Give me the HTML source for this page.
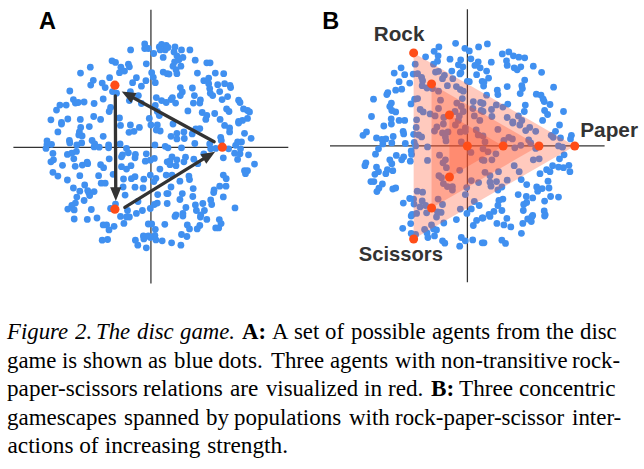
<!DOCTYPE html>
<html><head><meta charset="utf-8"><title>Figure 2</title>
<style>
html,body{margin:0;padding:0;background:#fff;}
body{width:644px;height:469px;position:relative;overflow:hidden;font-family:"Liberation Serif",serif;}
.l{position:absolute;left:0;width:644px;height:26px;font-size:23.3px;line-height:26px;color:#000;white-space:nowrap;}
.l span{position:absolute;top:0;transform-origin:0 0;}
</style></head><body>
<svg width="644" height="300" viewBox="0 0 644 300" style="position:absolute;left:0;top:0">
<g stroke="#333" stroke-width="1.26">
<line x1="150.93" y1="9.85" x2="150.93" y2="283.6"/>
<line x1="13.4" y1="147.4" x2="288.3" y2="147.4"/>
<line x1="467.4" y1="9.15" x2="467.4" y2="282.2"/>
<line x1="330" y1="145.95" x2="604.6" y2="145.95"/>
</g>
<g fill="#4090f0"><circle cx="130.6" cy="49.9" r="3.4"/><circle cx="144.7" cy="43.9" r="3.4"/><circle cx="144.7" cy="48.5" r="3.4"/><circle cx="148.3" cy="48.5" r="3.4"/><circle cx="153.7" cy="53.5" r="3.4"/><circle cx="159.3" cy="46.9" r="3.4"/><circle cx="161.6" cy="44.3" r="3.4"/><circle cx="166.2" cy="45.5" r="3.4"/><circle cx="163.2" cy="57.4" r="3.4"/><circle cx="146.3" cy="63.8" r="3.4"/><circle cx="112.0" cy="60.8" r="3.4"/><circle cx="115.5" cy="62.4" r="3.4"/><circle cx="120.9" cy="67.2" r="3.4"/><circle cx="128.4" cy="64.2" r="3.4"/><circle cx="129.4" cy="66.8" r="3.4"/><circle cx="119.5" cy="72.7" r="3.4"/><circle cx="124.5" cy="71.1" r="3.4"/><circle cx="90.3" cy="67.2" r="3.4"/><circle cx="80.5" cy="73.1" r="3.4"/><circle cx="109.6" cy="77.7" r="3.4"/><circle cx="93.3" cy="80.3" r="3.4"/><circle cx="90.7" cy="85.1" r="3.4"/><circle cx="102.2" cy="83.1" r="3.4"/><circle cx="105.2" cy="87.6" r="3.4"/><circle cx="136.4" cy="77.7" r="3.4"/><circle cx="132.6" cy="82.7" r="3.4"/><circle cx="145.9" cy="80.7" r="3.4"/><circle cx="141.4" cy="86.2" r="3.4"/><circle cx="151.7" cy="72.7" r="3.4"/><circle cx="153.3" cy="77.3" r="3.4"/><circle cx="155.3" cy="82.7" r="3.4"/><circle cx="163.2" cy="72.1" r="3.4"/><circle cx="167.2" cy="73.7" r="3.4"/><circle cx="69.8" cy="91.0" r="3.4"/><circle cx="112.5" cy="91.6" r="3.4"/><circle cx="116.5" cy="93.2" r="3.4"/><circle cx="130.4" cy="91.6" r="3.4"/><circle cx="138.4" cy="95.6" r="3.4"/><circle cx="129.4" cy="100.6" r="3.4"/><circle cx="103.2" cy="99.0" r="3.4"/><circle cx="73.4" cy="99.6" r="3.4"/><circle cx="75.4" cy="103.1" r="3.4"/><circle cx="78.2" cy="102.5" r="3.4"/><circle cx="84.1" cy="102.0" r="3.4"/><circle cx="94.1" cy="103.5" r="3.4"/><circle cx="59.9" cy="105.1" r="3.4"/><circle cx="66.2" cy="105.1" r="3.4"/><circle cx="56.5" cy="110.1" r="3.4"/><circle cx="110.6" cy="107.5" r="3.4"/><circle cx="109.2" cy="111.5" r="3.4"/><circle cx="93.7" cy="116.5" r="3.4"/><circle cx="100.6" cy="119.4" r="3.4"/><circle cx="119.5" cy="118.0" r="3.4"/><circle cx="50.9" cy="119.8" r="3.4"/><circle cx="67.8" cy="119.0" r="3.4"/><circle cx="80.3" cy="119.4" r="3.4"/><circle cx="61.5" cy="122.4" r="3.4"/><circle cx="156.3" cy="97.6" r="3.4"/><circle cx="161.6" cy="100.6" r="3.4"/><circle cx="166.2" cy="102.5" r="3.4"/><circle cx="155.3" cy="105.5" r="3.4"/><circle cx="141.4" cy="103.5" r="3.4"/><circle cx="157.3" cy="111.5" r="3.4"/><circle cx="159.3" cy="115.5" r="3.4"/><circle cx="149.3" cy="118.4" r="3.4"/><circle cx="165.2" cy="49.9" r="3.4"/><circle cx="160.2" cy="49.9" r="3.4"/><circle cx="175.0" cy="46.9" r="3.4"/><circle cx="174.0" cy="51.9" r="3.4"/><circle cx="181.5" cy="49.9" r="3.4"/><circle cx="189.9" cy="49.9" r="3.4"/><circle cx="176.9" cy="55.8" r="3.4"/><circle cx="182.9" cy="57.4" r="3.4"/><circle cx="195.2" cy="60.2" r="3.4"/><circle cx="206.8" cy="62.8" r="3.4"/><circle cx="210.1" cy="62.8" r="3.4"/><circle cx="174.6" cy="61.8" r="3.4"/><circle cx="173.0" cy="66.2" r="3.4"/><circle cx="180.9" cy="66.2" r="3.4"/><circle cx="176.0" cy="69.8" r="3.4"/><circle cx="176.9" cy="73.7" r="3.4"/><circle cx="169.0" cy="74.1" r="3.4"/><circle cx="197.4" cy="73.1" r="3.4"/><circle cx="215.3" cy="73.1" r="3.4"/><circle cx="223.7" cy="73.7" r="3.4"/><circle cx="208.7" cy="78.1" r="3.4"/><circle cx="203.8" cy="80.7" r="3.4"/><circle cx="208.7" cy="83.7" r="3.4"/><circle cx="217.7" cy="84.7" r="3.4"/><circle cx="224.6" cy="83.7" r="3.4"/><circle cx="230.0" cy="85.3" r="3.4"/><circle cx="230.6" cy="87.6" r="3.4"/><circle cx="209.7" cy="88.6" r="3.4"/><circle cx="210.3" cy="93.2" r="3.4"/><circle cx="212.7" cy="95.6" r="3.4"/><circle cx="219.7" cy="91.6" r="3.4"/><circle cx="180.3" cy="87.6" r="3.4"/><circle cx="182.3" cy="92.0" r="3.4"/><circle cx="180.3" cy="95.6" r="3.4"/><circle cx="192.4" cy="88.0" r="3.4"/><circle cx="194.4" cy="95.6" r="3.4"/><circle cx="172.4" cy="97.6" r="3.4"/><circle cx="171.0" cy="99.6" r="3.4"/><circle cx="175.6" cy="103.1" r="3.4"/><circle cx="200.4" cy="100.0" r="3.4"/><circle cx="193.4" cy="103.1" r="3.4"/><circle cx="199.8" cy="103.1" r="3.4"/><circle cx="222.1" cy="99.6" r="3.4"/><circle cx="227.6" cy="96.6" r="3.4"/><circle cx="238.6" cy="100.2" r="3.4"/><circle cx="240.0" cy="102.5" r="3.4"/><circle cx="187.9" cy="110.9" r="3.4"/><circle cx="202.2" cy="112.5" r="3.4"/><circle cx="206.8" cy="115.5" r="3.4"/><circle cx="205.8" cy="119.4" r="3.4"/><circle cx="214.7" cy="113.5" r="3.4"/><circle cx="220.1" cy="119.4" r="3.4"/><circle cx="226.6" cy="108.9" r="3.4"/><circle cx="229.0" cy="111.5" r="3.4"/><circle cx="243.5" cy="108.9" r="3.4"/><circle cx="247.5" cy="110.5" r="3.4"/><circle cx="249.5" cy="111.9" r="3.4"/><circle cx="247.5" cy="118.4" r="3.4"/><circle cx="242.5" cy="120.4" r="3.4"/><circle cx="238.6" cy="121.4" r="3.4"/><circle cx="168.0" cy="47.5" r="3.4"/><circle cx="178.9" cy="59.8" r="3.4"/><circle cx="61.5" cy="124.0" r="3.4"/><circle cx="57.9" cy="131.9" r="3.4"/><circle cx="80.7" cy="127.4" r="3.4"/><circle cx="89.3" cy="126.6" r="3.4"/><circle cx="79.4" cy="131.9" r="3.4"/><circle cx="78.8" cy="134.9" r="3.4"/><circle cx="82.1" cy="135.9" r="3.4"/><circle cx="103.2" cy="136.3" r="3.4"/><circle cx="120.5" cy="125.4" r="3.4"/><circle cx="130.4" cy="125.0" r="3.4"/><circle cx="139.4" cy="127.4" r="3.4"/><circle cx="129.0" cy="132.3" r="3.4"/><circle cx="134.0" cy="131.3" r="3.4"/><circle cx="150.9" cy="125.0" r="3.4"/><circle cx="157.3" cy="125.0" r="3.4"/><circle cx="156.3" cy="130.0" r="3.4"/><circle cx="160.2" cy="131.0" r="3.4"/><circle cx="47.0" cy="140.9" r="3.4"/><circle cx="47.0" cy="144.3" r="3.4"/><circle cx="51.5" cy="144.3" r="3.4"/><circle cx="46.0" cy="148.4" r="3.4"/><circle cx="69.4" cy="140.5" r="3.4"/><circle cx="69.8" cy="142.9" r="3.4"/><circle cx="76.8" cy="144.9" r="3.4"/><circle cx="81.7" cy="142.9" r="3.4"/><circle cx="92.1" cy="140.5" r="3.4"/><circle cx="94.7" cy="143.9" r="3.4"/><circle cx="94.1" cy="146.9" r="3.4"/><circle cx="99.2" cy="147.2" r="3.4"/><circle cx="108.6" cy="144.9" r="3.4"/><circle cx="108.6" cy="147.8" r="3.4"/><circle cx="120.1" cy="143.9" r="3.4"/><circle cx="126.5" cy="148.4" r="3.4"/><circle cx="154.9" cy="144.9" r="3.4"/><circle cx="165.2" cy="146.3" r="3.4"/><circle cx="52.9" cy="153.4" r="3.4"/><circle cx="67.4" cy="154.4" r="3.4"/><circle cx="71.8" cy="153.2" r="3.4"/><circle cx="76.4" cy="151.4" r="3.4"/><circle cx="73.8" cy="158.8" r="3.4"/><circle cx="53.5" cy="159.8" r="3.4"/><circle cx="50.9" cy="161.8" r="3.4"/><circle cx="62.5" cy="165.3" r="3.4"/><circle cx="75.2" cy="166.3" r="3.4"/><circle cx="82.3" cy="165.1" r="3.4"/><circle cx="87.1" cy="162.2" r="3.4"/><circle cx="87.7" cy="163.7" r="3.4"/><circle cx="100.6" cy="164.7" r="3.4"/><circle cx="103.6" cy="167.7" r="3.4"/><circle cx="109.2" cy="158.8" r="3.4"/><circle cx="122.5" cy="154.8" r="3.4"/><circle cx="121.5" cy="156.8" r="3.4"/><circle cx="128.4" cy="152.8" r="3.4"/><circle cx="135.4" cy="154.4" r="3.4"/><circle cx="135.0" cy="157.8" r="3.4"/><circle cx="146.3" cy="153.8" r="3.4"/><circle cx="154.3" cy="158.4" r="3.4"/><circle cx="150.3" cy="160.2" r="3.4"/><circle cx="145.3" cy="161.2" r="3.4"/><circle cx="121.5" cy="166.7" r="3.4"/><circle cx="126.5" cy="169.1" r="3.4"/><circle cx="131.0" cy="165.7" r="3.4"/><circle cx="52.9" cy="172.3" r="3.4"/><circle cx="57.9" cy="176.1" r="3.4"/><circle cx="67.4" cy="180.0" r="3.4"/><circle cx="79.8" cy="175.7" r="3.4"/><circle cx="98.6" cy="175.7" r="3.4"/><circle cx="113.1" cy="174.3" r="3.4"/><circle cx="123.5" cy="179.0" r="3.4"/><circle cx="131.4" cy="178.7" r="3.4"/><circle cx="135.0" cy="176.7" r="3.4"/><circle cx="143.8" cy="179.2" r="3.4"/><circle cx="150.3" cy="175.1" r="3.4"/><circle cx="155.9" cy="178.3" r="3.4"/><circle cx="153.9" cy="181.6" r="3.4"/><circle cx="159.9" cy="169.1" r="3.4"/><circle cx="166.2" cy="175.1" r="3.4"/><circle cx="101.2" cy="183.2" r="3.4"/><circle cx="105.2" cy="183.2" r="3.4"/><circle cx="84.7" cy="185.0" r="3.4"/><circle cx="73.4" cy="188.0" r="3.4"/><circle cx="79.8" cy="191.2" r="3.4"/><circle cx="87.7" cy="190.6" r="3.4"/><circle cx="88.7" cy="192.6" r="3.4"/><circle cx="94.1" cy="191.6" r="3.4"/><circle cx="89.7" cy="195.5" r="3.4"/><circle cx="76.8" cy="197.1" r="3.4"/><circle cx="84.1" cy="200.5" r="3.4"/><circle cx="75.4" cy="203.1" r="3.4"/><circle cx="71.8" cy="205.5" r="3.4"/><circle cx="67.8" cy="209.1" r="3.4"/><circle cx="74.2" cy="209.9" r="3.4"/><circle cx="91.3" cy="209.5" r="3.4"/><circle cx="123.1" cy="187.0" r="3.4"/><circle cx="135.0" cy="187.2" r="3.4"/><circle cx="143.0" cy="188.0" r="3.4"/><circle cx="125.1" cy="195.1" r="3.4"/><circle cx="157.7" cy="194.6" r="3.4"/><circle cx="166.8" cy="193.6" r="3.4"/><circle cx="138.0" cy="201.5" r="3.4"/><circle cx="157.3" cy="203.1" r="3.4"/><circle cx="154.3" cy="204.5" r="3.4"/><circle cx="150.3" cy="208.5" r="3.4"/><circle cx="142.4" cy="210.5" r="3.4"/><circle cx="127.5" cy="210.5" r="3.4"/><circle cx="136.4" cy="213.4" r="3.4"/><circle cx="110.6" cy="208.5" r="3.4"/><circle cx="115.5" cy="204.1" r="3.4"/><circle cx="167.2" cy="161.8" r="3.4"/><circle cx="167.2" cy="203.5" r="3.4"/><circle cx="173.0" cy="124.0" r="3.4"/><circle cx="224.6" cy="125.4" r="3.4"/><circle cx="229.6" cy="128.0" r="3.4"/><circle cx="229.6" cy="131.9" r="3.4"/><circle cx="238.6" cy="123.0" r="3.4"/><circle cx="195.8" cy="129.0" r="3.4"/><circle cx="199.8" cy="128.6" r="3.4"/><circle cx="192.2" cy="133.9" r="3.4"/><circle cx="183.9" cy="131.9" r="3.4"/><circle cx="176.9" cy="133.3" r="3.4"/><circle cx="171.0" cy="136.3" r="3.4"/><circle cx="176.9" cy="138.9" r="3.4"/><circle cx="184.3" cy="138.5" r="3.4"/><circle cx="194.8" cy="143.5" r="3.4"/><circle cx="181.5" cy="147.8" r="3.4"/><circle cx="244.5" cy="133.3" r="3.4"/><circle cx="251.1" cy="138.3" r="3.4"/><circle cx="220.7" cy="137.3" r="3.4"/><circle cx="221.3" cy="140.5" r="3.4"/><circle cx="209.7" cy="143.9" r="3.4"/><circle cx="210.7" cy="148.8" r="3.4"/><circle cx="215.7" cy="148.4" r="3.4"/><circle cx="237.6" cy="141.9" r="3.4"/><circle cx="241.5" cy="141.9" r="3.4"/><circle cx="235.6" cy="145.3" r="3.4"/><circle cx="228.6" cy="148.8" r="3.4"/><circle cx="240.5" cy="148.8" r="3.4"/><circle cx="234.6" cy="153.2" r="3.4"/><circle cx="240.0" cy="153.8" r="3.4"/><circle cx="248.5" cy="154.8" r="3.4"/><circle cx="237.6" cy="159.4" r="3.4"/><circle cx="223.3" cy="157.8" r="3.4"/><circle cx="254.5" cy="164.1" r="3.4"/><circle cx="244.5" cy="170.7" r="3.4"/><circle cx="247.5" cy="170.7" r="3.4"/><circle cx="245.5" cy="173.7" r="3.4"/><circle cx="172.0" cy="156.8" r="3.4"/><circle cx="170.0" cy="160.8" r="3.4"/><circle cx="176.9" cy="159.8" r="3.4"/><circle cx="185.5" cy="157.2" r="3.4"/><circle cx="183.9" cy="161.8" r="3.4"/><circle cx="193.8" cy="159.2" r="3.4"/><circle cx="197.8" cy="163.7" r="3.4"/><circle cx="170.0" cy="164.7" r="3.4"/><circle cx="176.0" cy="165.7" r="3.4"/><circle cx="172.0" cy="175.1" r="3.4"/><circle cx="188.9" cy="176.1" r="3.4"/><circle cx="189.5" cy="179.6" r="3.4"/><circle cx="179.9" cy="181.2" r="3.4"/><circle cx="223.3" cy="175.1" r="3.4"/><circle cx="226.2" cy="178.7" r="3.4"/><circle cx="226.0" cy="186.2" r="3.4"/><circle cx="219.7" cy="186.2" r="3.4"/><circle cx="214.1" cy="190.0" r="3.4"/><circle cx="213.7" cy="192.6" r="3.4"/><circle cx="223.3" cy="196.9" r="3.4"/><circle cx="193.2" cy="188.6" r="3.4"/><circle cx="171.0" cy="187.0" r="3.4"/><circle cx="168.0" cy="193.6" r="3.4"/><circle cx="182.3" cy="193.6" r="3.4"/><circle cx="192.8" cy="196.5" r="3.4"/><circle cx="179.9" cy="199.5" r="3.4"/><circle cx="210.7" cy="199.9" r="3.4"/><circle cx="211.7" cy="204.5" r="3.4"/><circle cx="202.8" cy="203.5" r="3.4"/><circle cx="195.4" cy="204.9" r="3.4"/><circle cx="185.9" cy="207.5" r="3.4"/><circle cx="196.4" cy="210.5" r="3.4"/><circle cx="204.4" cy="210.5" r="3.4"/><circle cx="235.0" cy="207.9" r="3.4"/><circle cx="182.9" cy="213.4" r="3.4"/><circle cx="176.0" cy="214.8" r="3.4"/><circle cx="200.8" cy="214.8" r="3.4"/><circle cx="203.8" cy="153.8" r="3.4"/><circle cx="168.0" cy="147.8" r="3.4"/><circle cx="74.2" cy="219.0" r="3.4"/><circle cx="87.3" cy="219.4" r="3.4"/><circle cx="97.0" cy="218.0" r="3.4"/><circle cx="103.2" cy="224.9" r="3.4"/><circle cx="106.6" cy="224.9" r="3.4"/><circle cx="109.0" cy="229.9" r="3.4"/><circle cx="114.1" cy="226.3" r="3.4"/><circle cx="123.9" cy="223.4" r="3.4"/><circle cx="120.5" cy="216.4" r="3.4"/><circle cx="126.5" cy="217.0" r="3.4"/><circle cx="129.4" cy="217.0" r="3.4"/><circle cx="148.3" cy="224.0" r="3.4"/><circle cx="151.7" cy="224.0" r="3.4"/><circle cx="155.3" cy="229.3" r="3.4"/><circle cx="164.8" cy="224.3" r="3.4"/><circle cx="102.2" cy="240.2" r="3.4"/><circle cx="107.6" cy="239.5" r="3.4"/><circle cx="135.4" cy="240.2" r="3.4"/><circle cx="137.8" cy="245.2" r="3.4"/><circle cx="146.3" cy="247.8" r="3.4"/><circle cx="143.4" cy="235.9" r="3.4"/><circle cx="148.3" cy="235.9" r="3.4"/><circle cx="143.8" cy="238.9" r="3.4"/><circle cx="154.9" cy="235.3" r="3.4"/><circle cx="155.9" cy="239.9" r="3.4"/><circle cx="162.2" cy="240.8" r="3.4"/><circle cx="150.3" cy="237.5" r="3.4"/><circle cx="175.0" cy="216.4" r="3.4"/><circle cx="182.9" cy="216.0" r="3.4"/><circle cx="200.4" cy="217.0" r="3.4"/><circle cx="206.8" cy="219.4" r="3.4"/><circle cx="219.3" cy="219.6" r="3.4"/><circle cx="221.1" cy="223.6" r="3.4"/><circle cx="215.7" cy="227.9" r="3.4"/><circle cx="218.7" cy="227.9" r="3.4"/><circle cx="187.3" cy="224.9" r="3.4"/><circle cx="189.5" cy="228.9" r="3.4"/><circle cx="199.8" cy="225.5" r="3.4"/><circle cx="197.2" cy="228.9" r="3.4"/><circle cx="181.5" cy="234.5" r="3.4"/><circle cx="186.9" cy="236.5" r="3.4"/><circle cx="171.6" cy="242.8" r="3.4"/><circle cx="180.9" cy="245.2" r="3.4"/></g>
<g fill="#4090f0"><circle cx="455.6" cy="43.3" r="3.4"/><circle cx="438.9" cy="46.9" r="3.4"/><circle cx="434.1" cy="51.3" r="3.4"/><circle cx="438.1" cy="55.8" r="3.4"/><circle cx="425.6" cy="56.8" r="3.4"/><circle cx="437.5" cy="61.2" r="3.4"/><circle cx="433.5" cy="64.2" r="3.4"/><circle cx="450.0" cy="59.2" r="3.4"/><circle cx="460.7" cy="59.8" r="3.4"/><circle cx="464.9" cy="48.3" r="3.4"/><circle cx="469.3" cy="50.9" r="3.4"/><circle cx="478.6" cy="46.9" r="3.4"/><circle cx="470.9" cy="58.8" r="3.4"/><circle cx="458.4" cy="64.8" r="3.4"/><circle cx="462.9" cy="66.8" r="3.4"/><circle cx="474.9" cy="65.4" r="3.4"/><circle cx="478.2" cy="61.8" r="3.4"/><circle cx="480.2" cy="67.8" r="3.4"/><circle cx="451.8" cy="71.1" r="3.4"/><circle cx="460.9" cy="72.7" r="3.4"/><circle cx="476.6" cy="74.7" r="3.4"/><circle cx="467.3" cy="81.3" r="3.4"/><circle cx="482.2" cy="81.3" r="3.4"/><circle cx="415.2" cy="64.2" r="3.4"/><circle cx="401.1" cy="67.8" r="3.4"/><circle cx="394.2" cy="73.1" r="3.4"/><circle cx="404.7" cy="74.7" r="3.4"/><circle cx="413.2" cy="74.1" r="3.4"/><circle cx="417.6" cy="73.7" r="3.4"/><circle cx="421.6" cy="77.3" r="3.4"/><circle cx="422.6" cy="80.7" r="3.4"/><circle cx="435.5" cy="72.1" r="3.4"/><circle cx="438.5" cy="71.3" r="3.4"/><circle cx="444.4" cy="75.3" r="3.4"/><circle cx="442.5" cy="78.7" r="3.4"/><circle cx="452.8" cy="78.7" r="3.4"/><circle cx="399.1" cy="81.7" r="3.4"/><circle cx="409.7" cy="83.1" r="3.4"/><circle cx="422.2" cy="85.7" r="3.4"/><circle cx="427.0" cy="88.0" r="3.4"/><circle cx="432.5" cy="88.6" r="3.4"/><circle cx="447.4" cy="85.7" r="3.4"/><circle cx="456.4" cy="86.6" r="3.4"/><circle cx="460.3" cy="89.6" r="3.4"/><circle cx="463.3" cy="91.2" r="3.4"/><circle cx="438.5" cy="91.2" r="3.4"/><circle cx="401.7" cy="89.2" r="3.4"/><circle cx="395.7" cy="90.2" r="3.4"/><circle cx="387.8" cy="92.6" r="3.4"/><circle cx="386.8" cy="94.6" r="3.4"/><circle cx="373.5" cy="99.2" r="3.4"/><circle cx="414.6" cy="99.2" r="3.4"/><circle cx="417.6" cy="98.6" r="3.4"/><circle cx="411.0" cy="103.9" r="3.4"/><circle cx="391.4" cy="103.1" r="3.4"/><circle cx="389.8" cy="106.5" r="3.4"/><circle cx="440.5" cy="100.2" r="3.4"/><circle cx="462.3" cy="98.6" r="3.4"/><circle cx="473.3" cy="101.6" r="3.4"/><circle cx="480.6" cy="102.5" r="3.4"/><circle cx="456.8" cy="103.1" r="3.4"/><circle cx="461.3" cy="106.5" r="3.4"/><circle cx="472.9" cy="108.5" r="3.4"/><circle cx="438.5" cy="108.5" r="3.4"/><circle cx="420.2" cy="109.5" r="3.4"/><circle cx="423.2" cy="111.9" r="3.4"/><circle cx="430.1" cy="113.9" r="3.4"/><circle cx="435.1" cy="115.9" r="3.4"/><circle cx="391.8" cy="110.5" r="3.4"/><circle cx="395.7" cy="111.9" r="3.4"/><circle cx="371.5" cy="116.5" r="3.4"/><circle cx="391.2" cy="118.8" r="3.4"/><circle cx="399.1" cy="120.4" r="3.4"/><circle cx="404.7" cy="120.4" r="3.4"/><circle cx="416.6" cy="119.8" r="3.4"/><circle cx="455.0" cy="111.5" r="3.4"/><circle cx="463.3" cy="111.5" r="3.4"/><circle cx="459.3" cy="115.9" r="3.4"/><circle cx="481.2" cy="110.5" r="3.4"/><circle cx="474.3" cy="115.9" r="3.4"/><circle cx="443.8" cy="117.5" r="3.4"/><circle cx="458.4" cy="120.4" r="3.4"/><circle cx="479.8" cy="120.4" r="3.4"/><circle cx="487.4" cy="43.9" r="3.4"/><circle cx="502.3" cy="53.9" r="3.4"/><circle cx="508.8" cy="51.9" r="3.4"/><circle cx="513.4" cy="55.8" r="3.4"/><circle cx="518.8" cy="57.2" r="3.4"/><circle cx="524.7" cy="57.8" r="3.4"/><circle cx="491.3" cy="62.2" r="3.4"/><circle cx="506.5" cy="60.8" r="3.4"/><circle cx="507.2" cy="65.4" r="3.4"/><circle cx="514.2" cy="67.8" r="3.4"/><circle cx="517.2" cy="69.8" r="3.4"/><circle cx="520.8" cy="66.8" r="3.4"/><circle cx="533.3" cy="66.2" r="3.4"/><circle cx="541.6" cy="72.3" r="3.4"/><circle cx="486.6" cy="71.1" r="3.4"/><circle cx="488.6" cy="78.1" r="3.4"/><circle cx="484.0" cy="82.1" r="3.4"/><circle cx="483.6" cy="86.0" r="3.4"/><circle cx="524.7" cy="80.1" r="3.4"/><circle cx="521.8" cy="85.7" r="3.4"/><circle cx="522.4" cy="88.6" r="3.4"/><circle cx="520.2" cy="93.6" r="3.4"/><circle cx="507.2" cy="86.6" r="3.4"/><circle cx="497.3" cy="90.2" r="3.4"/><circle cx="497.9" cy="94.6" r="3.4"/><circle cx="486.6" cy="95.2" r="3.4"/><circle cx="553.6" cy="87.2" r="3.4"/><circle cx="536.3" cy="94.2" r="3.4"/><circle cx="541.0" cy="95.2" r="3.4"/><circle cx="543.2" cy="99.2" r="3.4"/><circle cx="544.2" cy="101.6" r="3.4"/><circle cx="550.0" cy="104.5" r="3.4"/><circle cx="507.8" cy="104.1" r="3.4"/><circle cx="496.3" cy="104.9" r="3.4"/><circle cx="502.9" cy="107.1" r="3.4"/><circle cx="491.5" cy="109.5" r="3.4"/><circle cx="483.0" cy="103.5" r="3.4"/><circle cx="525.3" cy="105.1" r="3.4"/><circle cx="524.3" cy="111.5" r="3.4"/><circle cx="544.6" cy="110.5" r="3.4"/><circle cx="547.6" cy="114.5" r="3.4"/><circle cx="563.5" cy="111.5" r="3.4"/><circle cx="491.9" cy="116.5" r="3.4"/><circle cx="507.2" cy="117.5" r="3.4"/><circle cx="518.4" cy="115.9" r="3.4"/><circle cx="521.8" cy="120.4" r="3.4"/><circle cx="512.8" cy="121.8" r="3.4"/><circle cx="542.6" cy="120.4" r="3.4"/><circle cx="483.0" cy="111.5" r="3.4"/><circle cx="383.8" cy="126.0" r="3.4"/><circle cx="391.4" cy="124.0" r="3.4"/><circle cx="366.5" cy="131.9" r="3.4"/><circle cx="363.0" cy="135.3" r="3.4"/><circle cx="403.1" cy="131.3" r="3.4"/><circle cx="403.7" cy="133.9" r="3.4"/><circle cx="393.2" cy="136.5" r="3.4"/><circle cx="376.5" cy="137.9" r="3.4"/><circle cx="381.8" cy="139.3" r="3.4"/><circle cx="385.8" cy="138.9" r="3.4"/><circle cx="416.2" cy="127.4" r="3.4"/><circle cx="413.6" cy="134.3" r="3.4"/><circle cx="418.6" cy="134.9" r="3.4"/><circle cx="421.6" cy="136.9" r="3.4"/><circle cx="414.2" cy="142.3" r="3.4"/><circle cx="415.6" cy="145.9" r="3.4"/><circle cx="405.3" cy="143.5" r="3.4"/><circle cx="391.8" cy="142.9" r="3.4"/><circle cx="382.8" cy="143.9" r="3.4"/><circle cx="378.5" cy="148.8" r="3.4"/><circle cx="375.5" cy="154.2" r="3.4"/><circle cx="427.5" cy="146.9" r="3.4"/><circle cx="411.2" cy="150.8" r="3.4"/><circle cx="411.6" cy="154.4" r="3.4"/><circle cx="396.3" cy="155.4" r="3.4"/><circle cx="403.7" cy="156.8" r="3.4"/><circle cx="401.7" cy="159.8" r="3.4"/><circle cx="410.3" cy="161.2" r="3.4"/><circle cx="427.5" cy="160.4" r="3.4"/><circle cx="389.8" cy="159.8" r="3.4"/><circle cx="391.8" cy="163.7" r="3.4"/><circle cx="365.9" cy="162.8" r="3.4"/><circle cx="364.9" cy="165.7" r="3.4"/><circle cx="376.5" cy="167.1" r="3.4"/><circle cx="378.5" cy="171.7" r="3.4"/><circle cx="374.9" cy="174.3" r="3.4"/><circle cx="387.4" cy="169.7" r="3.4"/><circle cx="392.8" cy="170.7" r="3.4"/><circle cx="385.8" cy="173.7" r="3.4"/><circle cx="370.9" cy="181.6" r="3.4"/><circle cx="373.9" cy="181.6" r="3.4"/><circle cx="382.4" cy="184.0" r="3.4"/><circle cx="378.9" cy="188.2" r="3.4"/><circle cx="376.9" cy="191.6" r="3.4"/><circle cx="392.8" cy="189.0" r="3.4"/><circle cx="395.7" cy="188.0" r="3.4"/><circle cx="417.2" cy="191.2" r="3.4"/><circle cx="422.6" cy="192.2" r="3.4"/><circle cx="409.7" cy="198.5" r="3.4"/><circle cx="413.6" cy="199.1" r="3.4"/><circle cx="403.3" cy="203.1" r="3.4"/><circle cx="414.0" cy="204.1" r="3.4"/><circle cx="422.2" cy="200.9" r="3.4"/><circle cx="420.0" cy="206.9" r="3.4"/><circle cx="425.6" cy="205.5" r="3.4"/><circle cx="412.2" cy="214.4" r="3.4"/><circle cx="416.6" cy="213.4" r="3.4"/><circle cx="426.6" cy="212.8" r="3.4"/><circle cx="437.5" cy="211.8" r="3.4"/><circle cx="441.1" cy="212.4" r="3.4"/><circle cx="442.5" cy="204.5" r="3.4"/><circle cx="438.1" cy="199.1" r="3.4"/><circle cx="434.5" cy="131.0" r="3.4"/><circle cx="436.9" cy="127.0" r="3.4"/><circle cx="442.5" cy="132.9" r="3.4"/><circle cx="448.0" cy="131.9" r="3.4"/><circle cx="445.4" cy="136.9" r="3.4"/><circle cx="446.0" cy="140.9" r="3.4"/><circle cx="443.4" cy="124.0" r="3.4"/><circle cx="455.4" cy="125.0" r="3.4"/><circle cx="460.3" cy="131.9" r="3.4"/><circle cx="465.3" cy="131.3" r="3.4"/><circle cx="465.3" cy="128.0" r="3.4"/><circle cx="461.3" cy="141.9" r="3.4"/><circle cx="476.2" cy="130.0" r="3.4"/><circle cx="478.2" cy="134.9" r="3.4"/><circle cx="470.9" cy="152.4" r="3.4"/><circle cx="439.5" cy="155.2" r="3.4"/><circle cx="445.4" cy="159.8" r="3.4"/><circle cx="443.0" cy="162.8" r="3.4"/><circle cx="446.4" cy="167.7" r="3.4"/><circle cx="459.7" cy="170.3" r="3.4"/><circle cx="438.9" cy="175.7" r="3.4"/><circle cx="441.5" cy="177.7" r="3.4"/><circle cx="443.4" cy="183.6" r="3.4"/><circle cx="447.4" cy="186.6" r="3.4"/><circle cx="452.4" cy="186.6" r="3.4"/><circle cx="452.4" cy="190.0" r="3.4"/><circle cx="471.3" cy="180.6" r="3.4"/><circle cx="478.6" cy="182.6" r="3.4"/><circle cx="466.7" cy="187.6" r="3.4"/><circle cx="465.3" cy="194.6" r="3.4"/><circle cx="482.2" cy="159.8" r="3.4"/><circle cx="474.3" cy="201.5" r="3.4"/><circle cx="479.2" cy="205.5" r="3.4"/><circle cx="471.3" cy="208.9" r="3.4"/><circle cx="460.3" cy="209.1" r="3.4"/><circle cx="466.9" cy="213.4" r="3.4"/><circle cx="559.5" cy="125.0" r="3.4"/><circle cx="555.5" cy="131.3" r="3.4"/><circle cx="571.4" cy="135.3" r="3.4"/><circle cx="570.5" cy="138.9" r="3.4"/><circle cx="560.5" cy="137.9" r="3.4"/><circle cx="551.2" cy="135.3" r="3.4"/><circle cx="553.2" cy="137.3" r="3.4"/><circle cx="497.9" cy="129.4" r="3.4"/><circle cx="512.8" cy="123.0" r="3.4"/><circle cx="519.8" cy="125.0" r="3.4"/><circle cx="525.7" cy="130.6" r="3.4"/><circle cx="529.7" cy="127.4" r="3.4"/><circle cx="535.7" cy="131.3" r="3.4"/><circle cx="508.8" cy="137.3" r="3.4"/><circle cx="512.4" cy="138.9" r="3.4"/><circle cx="503.9" cy="140.5" r="3.4"/><circle cx="528.7" cy="139.9" r="3.4"/><circle cx="530.7" cy="142.9" r="3.4"/><circle cx="520.8" cy="145.3" r="3.4"/><circle cx="514.8" cy="147.8" r="3.4"/><circle cx="535.7" cy="148.4" r="3.4"/><circle cx="558.5" cy="145.9" r="3.4"/><circle cx="562.5" cy="147.2" r="3.4"/><circle cx="485.0" cy="141.9" r="3.4"/><circle cx="488.0" cy="151.8" r="3.4"/><circle cx="495.9" cy="153.8" r="3.4"/><circle cx="491.9" cy="159.8" r="3.4"/><circle cx="484.0" cy="160.4" r="3.4"/><circle cx="564.1" cy="154.8" r="3.4"/><circle cx="559.5" cy="158.8" r="3.4"/><circle cx="539.2" cy="158.8" r="3.4"/><circle cx="533.3" cy="159.8" r="3.4"/><circle cx="514.2" cy="165.7" r="3.4"/><circle cx="519.2" cy="171.7" r="3.4"/><circle cx="498.5" cy="171.7" r="3.4"/><circle cx="485.0" cy="172.3" r="3.4"/><circle cx="490.0" cy="175.7" r="3.4"/><circle cx="552.6" cy="165.7" r="3.4"/><circle cx="558.5" cy="167.1" r="3.4"/><circle cx="563.5" cy="167.7" r="3.4"/><circle cx="568.9" cy="165.3" r="3.4"/><circle cx="569.9" cy="171.7" r="3.4"/><circle cx="546.6" cy="169.7" r="3.4"/><circle cx="550.0" cy="171.7" r="3.4"/><circle cx="540.0" cy="173.7" r="3.4"/><circle cx="521.2" cy="179.6" r="3.4"/><circle cx="507.2" cy="180.2" r="3.4"/><circle cx="496.5" cy="181.6" r="3.4"/><circle cx="490.0" cy="182.2" r="3.4"/><circle cx="491.0" cy="186.2" r="3.4"/><circle cx="501.9" cy="187.0" r="3.4"/><circle cx="497.9" cy="190.0" r="3.4"/><circle cx="526.7" cy="184.6" r="3.4"/><circle cx="548.0" cy="181.2" r="3.4"/><circle cx="549.0" cy="188.0" r="3.4"/><circle cx="536.7" cy="187.0" r="3.4"/><circle cx="542.2" cy="188.6" r="3.4"/><circle cx="537.7" cy="191.2" r="3.4"/><circle cx="518.2" cy="194.6" r="3.4"/><circle cx="526.3" cy="196.5" r="3.4"/><circle cx="532.7" cy="197.9" r="3.4"/><circle cx="550.6" cy="196.5" r="3.4"/><circle cx="558.5" cy="197.1" r="3.4"/><circle cx="544.6" cy="201.1" r="3.4"/><circle cx="502.9" cy="199.1" r="3.4"/><circle cx="498.9" cy="200.5" r="3.4"/><circle cx="497.9" cy="205.5" r="3.4"/><circle cx="526.7" cy="202.5" r="3.4"/><circle cx="523.7" cy="204.5" r="3.4"/><circle cx="523.3" cy="210.5" r="3.4"/><circle cx="501.9" cy="210.5" r="3.4"/><circle cx="493.9" cy="211.4" r="3.4"/><circle cx="489.0" cy="214.4" r="3.4"/><circle cx="544.2" cy="210.9" r="3.4"/><circle cx="532.7" cy="215.4" r="3.4"/><circle cx="545.2" cy="214.8" r="3.4"/><circle cx="483.0" cy="148.8" r="3.4"/><circle cx="483.0" cy="135.9" r="3.4"/><circle cx="402.7" cy="228.3" r="3.4"/><circle cx="410.7" cy="223.6" r="3.4"/><circle cx="411.2" cy="216.0" r="3.4"/><circle cx="411.2" cy="233.5" r="3.4"/><circle cx="415.6" cy="234.5" r="3.4"/><circle cx="424.6" cy="229.5" r="3.4"/><circle cx="431.5" cy="224.9" r="3.4"/><circle cx="436.5" cy="217.0" r="3.4"/><circle cx="433.5" cy="228.9" r="3.4"/><circle cx="436.5" cy="229.9" r="3.4"/><circle cx="427.0" cy="232.9" r="3.4"/><circle cx="427.9" cy="237.5" r="3.4"/><circle cx="434.5" cy="235.9" r="3.4"/><circle cx="443.8" cy="223.0" r="3.4"/><circle cx="456.4" cy="219.6" r="3.4"/><circle cx="442.5" cy="240.8" r="3.4"/><circle cx="444.8" cy="243.2" r="3.4"/><circle cx="459.7" cy="246.2" r="3.4"/><circle cx="461.3" cy="237.5" r="3.4"/><circle cx="465.3" cy="240.8" r="3.4"/><circle cx="472.7" cy="239.9" r="3.4"/><circle cx="473.3" cy="225.5" r="3.4"/><circle cx="476.6" cy="220.4" r="3.4"/><circle cx="482.2" cy="218.0" r="3.4"/><circle cx="482.2" cy="242.8" r="3.4"/><circle cx="490.0" cy="216.4" r="3.4"/><circle cx="506.9" cy="218.4" r="3.4"/><circle cx="496.9" cy="223.4" r="3.4"/><circle cx="503.9" cy="224.9" r="3.4"/><circle cx="510.8" cy="226.9" r="3.4"/><circle cx="522.8" cy="223.4" r="3.4"/><circle cx="527.7" cy="219.0" r="3.4"/><circle cx="531.7" cy="217.0" r="3.4"/><circle cx="531.3" cy="221.6" r="3.4"/><circle cx="544.6" cy="216.0" r="3.4"/><circle cx="521.4" cy="233.3" r="3.4"/><circle cx="501.9" cy="240.2" r="3.4"/><circle cx="505.5" cy="243.4" r="3.4"/><circle cx="484.0" cy="242.8" r="3.4"/><circle cx="483.0" cy="218.0" r="3.4"/><circle cx="459.9" cy="73.9" r="3.4"/><circle cx="469.3" cy="81.7" r="3.4"/></g>
<line x1="214.15" y1="141.71" x2="132.94" y2="97.52" stroke="#333333" stroke-width="3.3" stroke-linecap="round"/><polygon points="121.70,91.40 136.50,93.08 131.14,102.92" fill="#333333"/><line x1="115.31" y1="95.85" x2="115.74" y2="188.20" stroke="#333333" stroke-width="3.3" stroke-linecap="round"/><polygon points="115.80,201.00 110.14,187.23 121.34,187.17" fill="#333333"/><line x1="124.80" y1="207.33" x2="204.20" y2="158.41" stroke="#333333" stroke-width="3.3" stroke-linecap="round"/><polygon points="215.10,151.70 206.29,163.71 200.41,154.17" fill="#333333"/>
<g fill="#ff4d18"><circle cx="222.3" cy="147.2" r="4.6"/><circle cx="114.9" cy="85.19" r="4.6"/><circle cx="114.9" cy="209.21" r="4.6"/></g>
<g fill="rgb(255,80,40)" fill-opacity="0.3">
<polygon points="574.75,145.95 413.65,52.94 413.65,238.96"/><polygon points="538.95,145.95 431.55,83.94 431.55,207.96"/><polygon points="503.15,145.95 449.45,114.95 449.45,176.95"/>
</g>
<g fill="#ff4d18"><circle cx="467.35" cy="145.95" r="4.5"/><circle cx="503.15" cy="145.95" r="4.5"/><circle cx="449.45" cy="114.95" r="4.5"/><circle cx="449.45" cy="176.95" r="4.5"/><circle cx="538.95" cy="145.95" r="4.5"/><circle cx="431.55" cy="83.94" r="4.5"/><circle cx="431.55" cy="207.96" r="4.5"/><circle cx="574.75" cy="145.95" r="4.5"/><circle cx="413.65" cy="52.94" r="4.5"/><circle cx="413.65" cy="238.96" r="4.5"/></g>
<g font-family="Liberation Sans, sans-serif" font-weight="bold" font-size="20.4px">
<text x="39.1" y="28.9" fill="#000" font-size="23.5px">A</text>
<text x="322.3" y="28.9" fill="#000" font-size="23.5px">B</text>
<text x="373.8" y="40.6" fill="#333" font-size="20.7px">Rock</text>
<text x="580.2" y="136.6" fill="#333" font-size="20.8px">Paper</text>
<text x="358.7" y="260.7" fill="#333" font-size="20.2px">Scissors</text>
</g>
</svg>
<div class="l" style="top:317.60px"><span id="w0_0" style="left:6.77px;transform:scaleX(0.978)"><i>Figure</i></span><span id="w0_1" style="left:74.96px;transform:scaleX(0.978)"><i>2.</i></span><span id="w0_2" style="left:95.81px;transform:scaleX(0.978)"><i>The</i></span><span id="w0_3" style="left:136.86px;transform:scaleX(0.978)"><i>disc</i></span><span id="w0_4" style="left:180.22px;transform:scaleX(0.978)"><i>game.</i></span><span id="w0_5" style="left:241.67px;transform:scaleX(0.978)"><b>A:</b></span><span id="w0_6" style="left:272.04px;transform:scaleX(0.978)">A</span><span id="w0_7" style="left:294.20px;transform:scaleX(0.978)">set</span><span id="w0_8" style="left:325.12px;transform:scaleX(0.978)">of</span><span id="w0_9" style="left:350.67px;transform:scaleX(0.978)">possible</span><span id="w0_10" style="left:431.55px;transform:scaleX(0.978)">agents</span><span id="w0_11" style="left:495.93px;transform:scaleX(0.978)">from</span><span id="w0_12" style="left:546.43px;transform:scaleX(0.978)">the</span><span id="w0_13" style="left:579.50px;transform:scaleX(0.978)">disc</span></div>
<div class="l" style="top:346.50px"><span id="w1_0" style="left:7.36px;transform:scaleX(0.978)">game</span><span id="w1_1" style="left:61.51px;transform:scaleX(0.978)">is</span><span id="w1_2" style="left:82.86px;transform:scaleX(0.978)">shown</span><span id="w1_3" style="left:148.27px;transform:scaleX(0.978)">as</span><span id="w1_4" style="left:174.48px;transform:scaleX(0.978)">blue</span><span id="w1_5" style="left:218.16px;transform:scaleX(1.0)">dots.</span><span id="w1_6" style="left:270.73px;transform:scaleX(0.978)">Three</span><span id="w1_7" style="left:329.55px;transform:scaleX(0.978)">agents</span><span id="w1_8" style="left:394.54px;transform:scaleX(0.978)">with</span><span id="w1_9" style="left:440.62px;transform:scaleX(0.978)">non-transitive</span><span id="w1_10" style="left:571.73px;transform:scaleX(0.978)">rock-</span></div>
<div class="l" style="top:375.00px"><span id="w2_0" style="left:7.06px;transform:scaleX(0.995)">paper-scissors</span><span id="w2_1" style="left:143.44px;transform:scaleX(0.995)">relations</span><span id="w2_2" style="left:230.27px;transform:scaleX(0.995)">are</span><span id="w2_3" style="left:265.61px;transform:scaleX(0.975)">visualized</span><span id="w2_4" style="left:363.51px;transform:scaleX(0.995)">in</span><span id="w2_5" style="left:388.44px;transform:scaleX(0.995)">red.</span><span id="w2_6" style="left:431.43px;transform:scaleX(0.995)"><b>B:</b></span><span id="w2_7" style="left:459.37px;transform:scaleX(0.995)">Three</span><span id="w2_8" style="left:519.38px;transform:scaleX(0.995)">concentric</span></div>
<div class="l" style="top:404.00px"><span id="w3_0" style="left:7.36px;transform:scaleX(0.985)">gamescapes</span><span id="w3_1" style="left:123.85px;transform:scaleX(0.985)">spanned</span><span id="w3_2" style="left:206.23px;transform:scaleX(0.985)">by</span><span id="w3_3" style="left:234.06px;transform:scaleX(0.985)">populations</span><span id="w3_4" style="left:349.08px;transform:scaleX(0.985)">with</span><span id="w3_5" style="left:394.85px;transform:scaleX(0.985)">rock-paper-scissor</span><span id="w3_6" style="left:571.51px;transform:scaleX(0.985)">inter-</span></div>
<div class="l" style="top:432.20px"><span id="w4_0" style="left:7.48px;transform:scaleX(1.0)">actions</span><span id="w4_1" style="left:79.18px;transform:scaleX(1.0)">of</span><span id="w4_2" style="left:104.67px;transform:scaleX(1.0)">increasing</span><span id="w4_3" style="left:207.18px;transform:scaleX(1.0)">strength.</span></div>

</body></html>
